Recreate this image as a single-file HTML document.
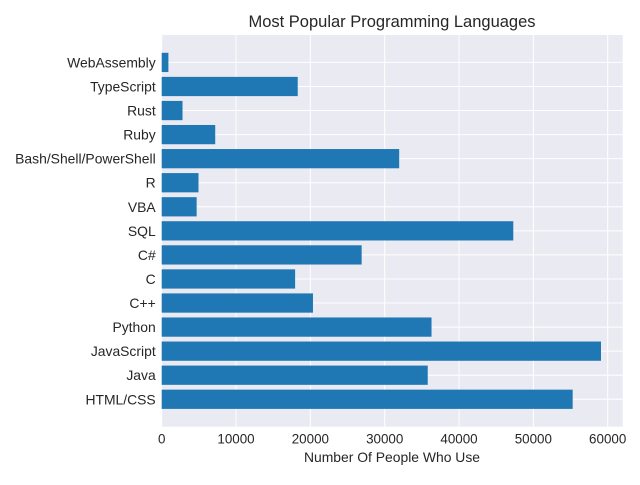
<!DOCTYPE html>
<html><head><meta charset="utf-8"><style>
body{margin:0;background:#fff;font-family:"Liberation Sans",sans-serif;}
</style></head><body>
<svg id="chart" width="640" height="480" xmlns="http://www.w3.org/2000/svg">
<text x="392" y="27" text-anchor="middle" font-size="16.5" fill="#262626">Most Popular Programming Languages</text>
<rect x="161.7" y="35" width="461" height="391.7" fill="#eaeaf2"/>
<g id="grid"></g><g id="bars"></g><g id="xticks"></g><g id="yticks"></g>
<text x="392" y="462" text-anchor="middle" font-size="13.9" fill="#262626">Number Of People Who Use</text>
</svg>
<script>
const categories = ["HTML/CSS","Java","JavaScript","Python","C++","C","C#","SQL","VBA","R","Bash/Shell/PowerShell","Ruby","Rust","TypeScript","WebAssembly"];
const values = [55290,35790,59100,36300,20350,17950,26900,47300,4700,4950,31950,7200,2800,18300,900];
const xTicks = [0,10000,20000,30000,40000,50000,60000];
const NS="http://www.w3.org/2000/svg";
const x0=161.7, pxPer=74.33/10000, plotTop=35, plotBot=426.7, plotRight=622.7;
const n=categories.length, lo=-0.4-0.74, hi=n-1+0.4+0.74;
const unit=(plotBot-plotTop)/(hi-lo);
const xs=v=>x0+v*pxPer, ys=i=>plotBot-(i-lo)*unit;
function mk(tag,attrs,parent){const e=document.createElementNS(NS,tag);for(const k in attrs)e.setAttribute(k,attrs[k]);document.getElementById(parent).appendChild(e);return e;}
xTicks.forEach(t=>{
  const g=mk('line',{x1:xs(t),x2:xs(t),y1:plotTop,y2:plotBot,stroke:'#fff','stroke-width':1},'grid');
  
  
  const l=mk('text',{x:xs(t),y:plotBot+17,'text-anchor':'middle','font-size':13.4,fill:'#262626'},'xticks');
  l.textContent=t;
  
  
});
categories.forEach((c,i)=>{
  const g=mk('line',{x1:x0,x2:plotRight,y1:ys(i),y2:ys(i),stroke:'#fff','stroke-width':1},'grid');
  
  
  const h=0.8*unit;
  const b=mk('rect',{x:x0,y:ys(i)-h/2,width:xs(values[i])-x0,height:h,fill:'#1f77b4'},'bars');
  
  
  const l=mk('text',{x:x0-6,y:ys(i)+5,'text-anchor':'end','font-size':13.9,fill:'#262626'},'yticks');
  l.textContent=c;
  
  
});
</script>
</body></html>
